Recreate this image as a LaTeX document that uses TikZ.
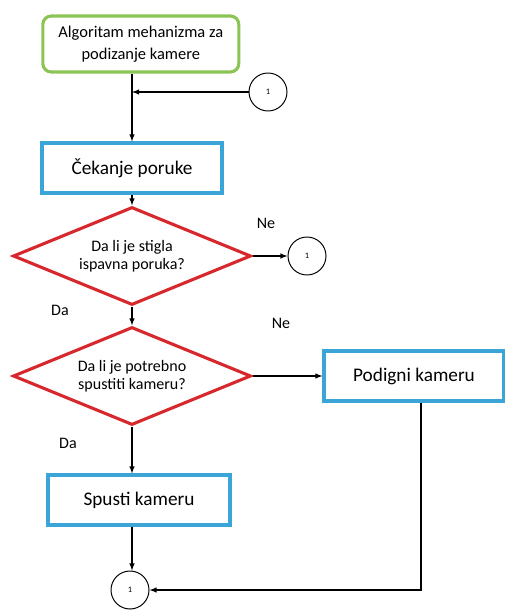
\documentclass[tikz,border=0pt]{standalone}
\usepackage{fontspec}
\setmainfont{Carlito}
\usetikzlibrary{shapes.geometric}

\definecolor{startgreen}{RGB}{140,195,85}
\definecolor{boxblue}{RGB}{60,165,215}
\definecolor{decred}{RGB}{215,40,45}

\begin{document}
\begin{tikzpicture}[
  start/.style={draw=startgreen, line width=2.2pt, rounded corners=6pt, minimum width=4.9cm,
                minimum height=1.4cm, align=center, font=\fontsize{11.7}{15.5}\selectfont},
  blk/.style={draw=boxblue, line width=2.2pt, rectangle, minimum width=4.5cm, minimum height=1.25cm,
              font=\fontsize{13.7}{16}\selectfont},
  dec/.style={draw=decred, line width=2.2pt, diamond, shape aspect=2.4, minimum width=5.95cm,
              minimum height=2.45cm, inner sep=0pt, align=center, font=\fontsize{11.4}{13}\selectfont},
  conn/.style={draw, circle, line width=0.7pt, minimum size=0.95cm, inner sep=0pt,
               font=\fontsize{6}{7}\selectfont},
  arr/.style={line width=0.75pt, ->, >=latex},
  lbl/.style={font=\fontsize{11.4}{13}\selectfont}
]
\useasboundingbox (0,0) rectangle (12.625,-15.25);

\node[start] (start) at (3.52,-1.1) {Algoritam mehanizma za\\podizanje kamere};
\node[conn]  (c1)    at (6.7,-2.3) {1};
\node[blk]   (wait)  at (3.3,-4.2) {Čekanje poruke};
\node[dec]   (q1)    at (3.3,-6.4) {Da li je stigla\\ispavna poruka?};
\node[conn]  (c2)    at (7.675,-6.4) {1};
\node[dec]   (q2)    at (3.3,-9.4) {Da li je potrebno\\spustiti kameru?};
\node[blk]   (up)    at (10.35,-9.4) {Podigni kameru};
\node[blk, minimum width=4.55cm] (down) at (3.475,-12.5) {Spusti kameru};
\node[conn]  (c3)    at (3.25,-14.75) {1};

% labels on the branches
\node[lbl] (ne1) at (6.65,-5.575) {Ne};
\node[lbl] (da1) at (1.5,-7.75) {Da};
\node[lbl] (ne2) at (7.025,-8.075) {Ne};
\node[lbl] (da2) at (1.7,-11.075) {Da};

\draw[arr] (start.south -| wait) -- (wait);
\draw[arr] (c1) -- (c1 -| wait);
\draw[arr] (wait) -- (q1);
\draw[arr] (q1) -- (c2);
\draw[arr] (q1) -- (q2);
\draw[arr] (q2) -- (up);
\draw[arr] (q2) -- (q2 |- down.north);
\draw[arr] (down.south -| q2) -- (q2 |- c3.north);
\draw[arr] ([xshift=1.75mm]up.south) |- (c3);
\end{tikzpicture}
\end{document}
